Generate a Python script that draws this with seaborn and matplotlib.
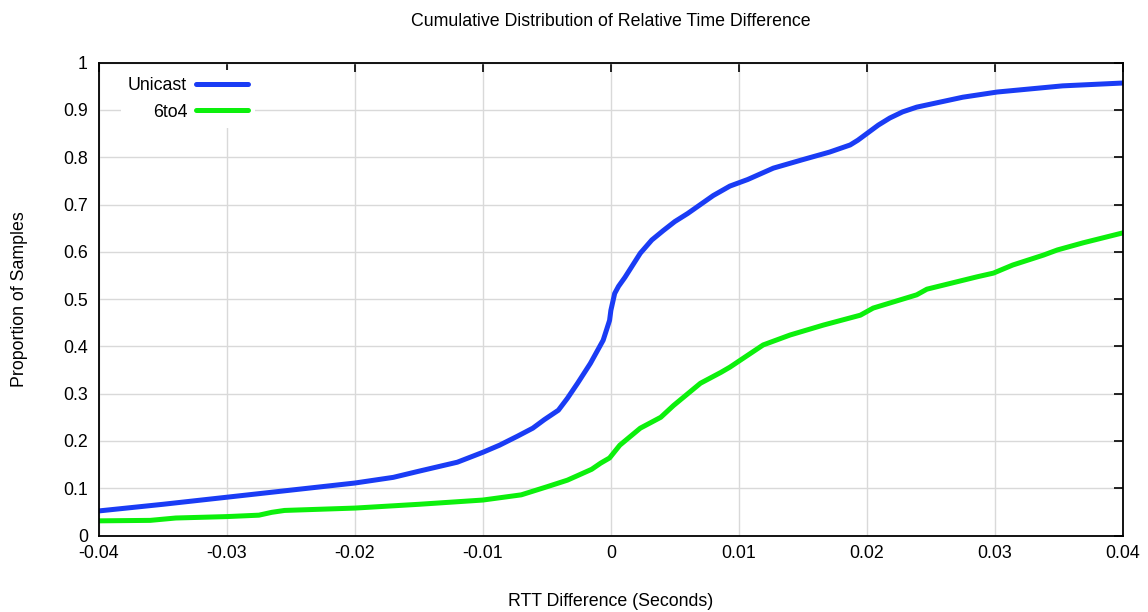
import matplotlib
matplotlib.use("Agg")
import matplotlib.pyplot as plt  # noqa: E402
import pandas as pd  # noqa: E402
import seaborn as sns  # noqa: E402
from matplotlib.ticker import FuncFormatter, MultipleLocator  # noqa: E402

# ---------------- 資料 ----------------
unicast_x = [-0.04, -0.035, -0.03, -0.025, -0.02, -0.017, -0.015, -0.012, -0.01,
             -0.0087, -0.0073, -0.0061, -0.0052, -0.0041, -0.0034, -0.0026, -0.0016,
             -0.0006, -0.0001, 0.0, 0.0003, 0.0006, 0.0011, 0.0023, 0.0032, 0.0041,
             0.005, 0.006, 0.008, 0.0093, 0.0107, 0.0127, 0.0150, 0.0171, 0.0187,
             0.0193, 0.02, 0.0209, 0.0218, 0.0228, 0.0239, 0.0275, 0.0302, 0.0353, 0.04]
unicast_y = [0.052, 0.066, 0.081, 0.096, 0.111, 0.123, 0.136, 0.155, 0.176,
             0.191, 0.210, 0.227, 0.245, 0.265, 0.290, 0.322, 0.364,
             0.413, 0.455, 0.476, 0.512, 0.527, 0.546, 0.597, 0.625, 0.645,
             0.664, 0.681, 0.719, 0.739, 0.753, 0.777, 0.795, 0.811, 0.826,
             0.836, 0.850, 0.868, 0.883, 0.896, 0.906, 0.927, 0.938, 0.951, 0.957]

sixto4_x = [-0.04, -0.036, -0.034, -0.03, -0.0275, -0.0265, -0.0255, -0.02, -0.015,
            -0.01, -0.007, -0.005, -0.0034, -0.0015, -0.0008, -0.0001, 0.0007,
            0.0023, 0.0039, 0.0049, 0.007, 0.0086, 0.0093, 0.0119, 0.014, 0.0166,
            0.0195, 0.0205, 0.0239, 0.0247, 0.0286, 0.0299, 0.0314, 0.0338, 0.0349,
            0.0369, 0.04]
sixto4_y = [0.031, 0.032, 0.037, 0.040, 0.043, 0.049, 0.053, 0.058, 0.066,
            0.075, 0.086, 0.103, 0.117, 0.140, 0.153, 0.164, 0.191,
            0.227, 0.250, 0.275, 0.322, 0.345, 0.356, 0.403, 0.424, 0.445,
            0.466, 0.481, 0.509, 0.521, 0.547, 0.555, 0.572, 0.593, 0.604,
            0.619, 0.640]

series_names = ["Unicast", "6to4"]
series_colors = ["#1a3cf5", "#0cf00c"]

df = pd.concat([
    pd.DataFrame({"x": unicast_x, "y": unicast_y, "series": series_names[0]}),
    pd.DataFrame({"x": sixto4_x, "y": sixto4_y, "series": series_names[1]}),
], ignore_index=True)

sns.set_style("white")
plt.rcParams["font.family"] = ["Liberation Sans", "DejaVu Sans"]
plt.rcParams["text.color"] = "black"
plt.rcParams["axes.labelcolor"] = "black"
FS = 12.8

fig = plt.figure(figsize=(11.48, 6.12), dpi=100)
ax = fig.add_axes([99 / 1148, 1 - 535.5 / 612, (1122.7 - 99) / 1148, (535.5 - 62.7) / 612])

sns.lineplot(data=df, x="x", y="y", hue="series", hue_order=series_names,
             palette=dict(zip(series_names, series_colors)), sort=False,
             estimator=None, linewidth=3.6, ax=ax)

ax.set_xlim(-0.04, 0.04)
ax.set_ylim(0, 1)
ax.xaxis.set_major_locator(MultipleLocator(0.01))
ax.yaxis.set_major_locator(MultipleLocator(0.1))
fmt = FuncFormatter(lambda v, _: "%g" % round(v, 4))
ax.xaxis.set_major_formatter(fmt)
ax.yaxis.set_major_formatter(fmt)
ax.grid(True, color="#d9d9d9", linewidth=1.0)
ax.set_axisbelow(True)
ax.tick_params(direction="in", length=6.5, width=1.2, top=True, right=True,
               labelsize=FS, colors="black")
ax.tick_params(axis="y", pad=8)
ax.tick_params(axis="x", pad=7)
for sp in ax.spines.values():
    sp.set_color("black")
    sp.set_linewidth(1.3)

ax.set_xlabel("RTT Difference (Seconds)", fontsize=FS)
ax.set_ylabel("Proportion of Samples", fontsize=FS)
ax.xaxis.set_label_coords(0.5, (535.5 - 601) / 472.8)
ax.xaxis.label.set_va("center")
ax.yaxis.set_label_coords((20 - 99) / 1023.7, 0.5)
ax.yaxis.label.set_va("center")

fig.text(611 / 1148, 1 - 21 / 612, "Cumulative Distribution of Relative Time Difference",
         ha="center", va="center", fontsize=FS)

leg = ax.legend(loc="upper left", bbox_to_anchor=(0.0215, 0.985), markerfirst=False,
                frameon=True, fontsize=FS, handlelength=2.9, handletextpad=0.5,
                borderaxespad=0.0, labelspacing=0.55, title=None)
leg.get_frame().set_facecolor("white")
leg.get_frame().set_edgecolor("none")
leg.get_frame().set_alpha(1.0)
for t in leg.get_texts():
    t.set_ha("right")

fig.savefig("out.png", dpi=100)
